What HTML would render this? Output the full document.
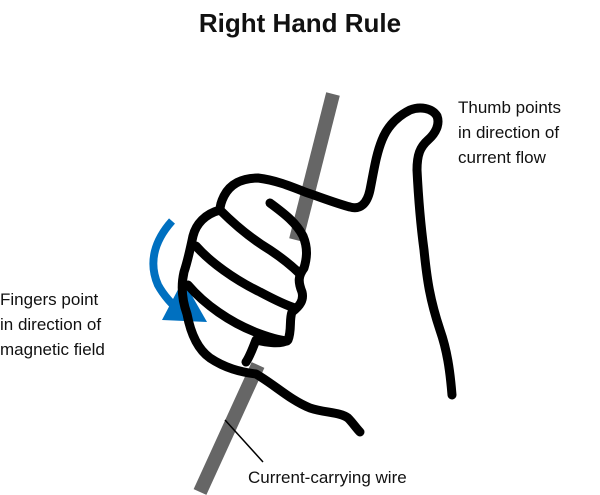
<!DOCTYPE html>
<html><head><meta charset="utf-8"><style>
html,body{margin:0;padding:0;background:#fff;width:600px;height:495px;overflow:hidden}
svg{display:block}
text{font-family:"Liberation Sans",sans-serif;fill:#111}
</style></head><body>
<svg width="600" height="495" viewBox="0 0 600 495">
<text x="300" y="32" text-anchor="middle" font-size="26" font-weight="bold">Right Hand Rule</text>
<g stroke="#666" stroke-width="14">
<line x1="333" y1="94" x2="296" y2="240"/>
<line x1="258" y1="365" x2="200" y2="492"/>
</g>
<g>
<path d="M172,221 C155,240 148,262 158,285 C164,296 172,304 180,312" fill="none" stroke="#0070c0" stroke-width="8"/>
<polygon points="162,320 207,322 183,280" fill="#0070c0"/>
</g>
<g fill="none" stroke="#000" stroke-width="9" stroke-linecap="round" stroke-linejoin="round">
<path d="M452,395 C450,370 447,350 440,330 C430,300 427,280 424,250 C420,220 418,190 417,170 C417,155 420,147 428,140 C436,133 440,124 437,116 C432,108 420,106 410,110 C398,116 388,125 382,140 C376,155 374,170 370,190 C367,204 360,210 350,207 C335,203 320,197 305,192 C290,186 275,180 258,178 C242,178 230,184 224,196 C220,204 220,208 220,210 C205,214 196,224 193,236 C190,250 188,260 184,272 C181,285 182,300 187,314 C190,330 196,348 210,358 C225,368 240,372 256,374 C275,385 290,400 310,408 C325,413 340,412 348,418 C353,423 356,428 360,432"/>
<path d="M270,203 C282,212 296,222 303,236 C308,248 307,258 304,268 C298,276 298,282 302,292 C304,300 300,306 292,312 C289,320 292,330 288,340 C280,345 265,342 256,340 C252,350 250,356 246,362"/>
<path d="M220,210 C232,222 250,238 270,250 C282,258 292,266 300,274"/>
<path d="M196,246 C210,262 235,280 260,292 C275,300 285,305 295,308"/>
<path d="M188,285 C205,305 230,322 255,332 C268,337 278,340 287,341"/>
</g>
<line x1="225" y1="420" x2="263" y2="462" stroke="#000" stroke-width="1.5"/>
<g font-size="17">
<text x="458" y="113">Thumb points</text>
<text x="458" y="138">in direction of</text>
<text x="458" y="163">current flow</text>
</g>
<g font-size="17">
<text x="0" y="305">Fingers point</text>
<text x="0" y="330">in direction of</text>
<text x="0" y="355">magnetic field</text>
</g>
<text x="248" y="483" font-size="17">Current-carrying wire</text>
</svg>
</body></html>
